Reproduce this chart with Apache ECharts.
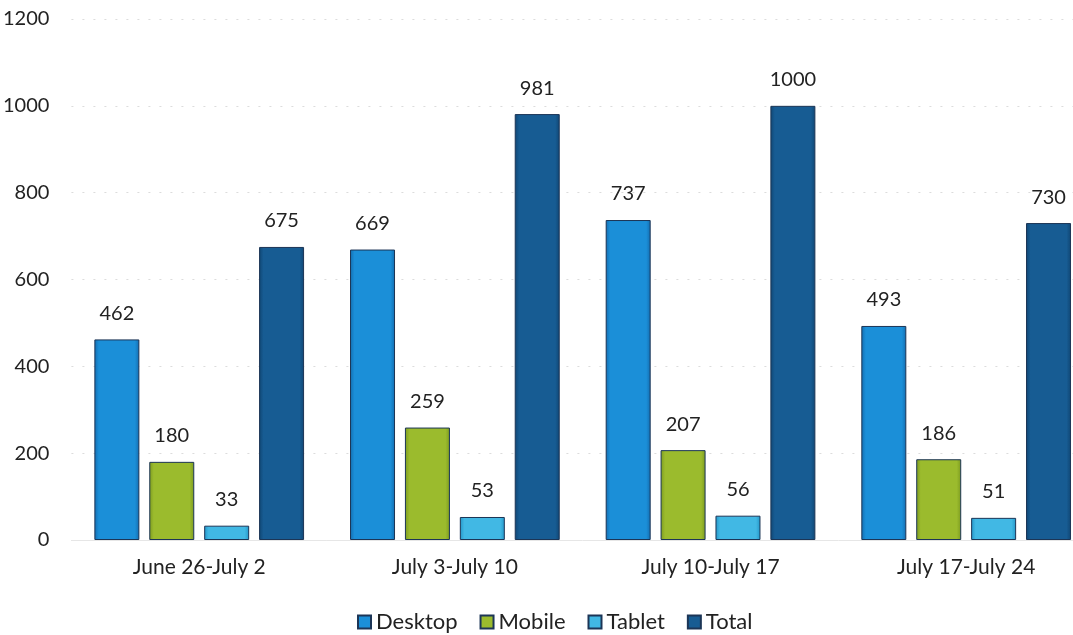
<!DOCTYPE html>
<html>
<head>
<meta charset="utf-8">
<script src="https://cdn.jsdelivr.net/npm/echarts@6/dist/echarts.min.js"></script>
<style>
  html, body { margin: 0; padding: 0; background: #fff; overflow: hidden; }
  #chart { width: 1100px; height: 635px; }
</style>
</head>
<body>
<div id="chart"></div>
<script>
// Weekly visits by device; the last category runs to the right edge of the page
const weeks = ['June 26-July 2', 'July 3-July 10', 'July 10-July 17', 'July 17-July 24'];
const desktop = [462, 669, 737, 493];
const mobile = [180, 259, 207, 186];
const tablet = [33, 53, 56, 51];
const total = [675, 981, 1000, 730];
const yTicks = [0, 200, 400, 600, 800, 1000, 1200];

const FONT = 'Lato, "Open Sans", sans-serif';

function shade(mid, edge) {
  return {
    type: 'linear', x: 0, y: 0, x2: 1, y2: 0,
    colorStops: [
      { offset: 0, color: edge },
      { offset: 0.1, color: mid },
      { offset: 0.9, color: mid },
      { offset: 1, color: edge }
    ]
  };
}

const palette = {
  Desktop: { mid: '#1b8fd8', edge: '#136db0' },
  Mobile: { mid: '#9bbb2d', edge: '#7c9a1f' },
  Tablet: { mid: '#41b8e4', edge: '#2396c8' },
  Total: { mid: '#175c93', edge: '#104673' }
};

function makeSeries(name, values) {
  const p = palette[name];
  return {
    name: name,
    type: 'bar',
    data: values,
    barWidth: 45,
    barGap: '22%',
    itemStyle: {
      color: shade(p.mid, p.edge),
      borderColor: '#1c3556',
      borderWidth: 1
    },
    label: {
      show: true,
      position: 'top',
      distance: 16,
      fontFamily: FONT,
      fontSize: 20,
      color: '#222'
    }
  };
}

const chart = echarts.init(document.getElementById('chart'), null, { renderer: 'canvas' });
chart.setOption({
  animation: false,
  color: [palette.Desktop.mid, palette.Mobile.mid, palette.Tablet.mid, palette.Total.mid],
  grid: { left: 70, top: 19, right: 6, height: 521, containLabel: false },
  legend: {
    top: 606,
    left: 352,
    itemWidth: 13,
    itemHeight: 13,
    itemGap: 22,
    icon: 'rect',
    textStyle: { fontFamily: FONT, fontSize: 22, color: '#222' },
    data: ['Desktop', 'Mobile', 'Tablet', 'Total']
  },
  xAxis: {
    type: 'category',
    data: weeks,
    axisTick: { show: false },
    axisLine: { show: true, lineStyle: { color: '#e6e6e6' } },
    axisLabel: { fontFamily: FONT, fontSize: 21, color: '#222', margin: 17 }
  },
  yAxis: {
    type: 'value',
    min: yTicks[0],
    max: yTicks[yTicks.length - 1],
    interval: 200,
    axisLine: { show: false },
    axisTick: { show: false },
    axisLabel: {
      fontFamily: FONT, fontSize: 20, color: '#222', margin: 22,
      formatter: function (v) { return String(v); }
    },
    splitLine: { show: true, lineStyle: { color: '#dcdcdc', type: [2, 9], width: 1 } }
  },
  series: [
    makeSeries('Desktop', desktop),
    makeSeries('Mobile', mobile),
    makeSeries('Tablet', tablet),
    makeSeries('Total', total)
  ]
});
</script>
</body>
</html>
